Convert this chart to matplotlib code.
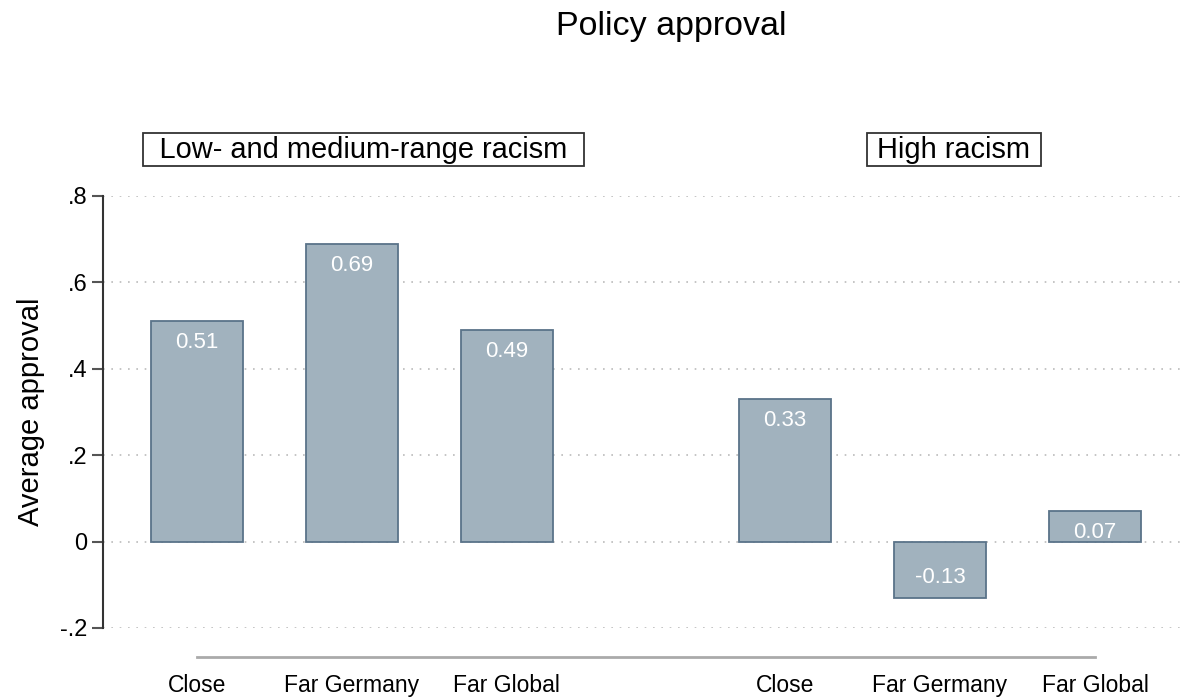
import matplotlib
matplotlib.use("Agg")
import matplotlib.pyplot as plt
import numpy as np

plt.rcParams['font.family'] = ['Liberation Sans', 'DejaVu Sans']

title = "Policy approval"
groups = ["Low- and medium-range racism", "High racism"]
categories = ["Close", "Far Germany", "Far Global"]
low_values = [0.51, 0.69, 0.49]
high_values = [0.33, -0.13, 0.07]
y_ticks = [-0.2, 0, 0.2, 0.4, 0.6, 0.8]
y_tick_labels = ["-.2", "0", ".2", ".4", ".6", ".8"]
ylabel = "Average approval"

fill = "#A1B2BE"
edge = "#5A7389"

W, H = 1186, 698
fig = plt.figure(figsize=(W / 100, H / 100), dpi=100)
ax = fig.add_axes([103 / W, 1 - 628 / H, (1183 - 103) / W, (628 - 196) / H])

group_step = 3 + 0.794
pos_low = np.arange(3)
pos_high = np.arange(3) + group_step
positions = np.concatenate([pos_low, pos_high])
values = low_values + high_values

for s in ["top", "right"]:
    ax.spines[s].set_visible(False)
ax.spines["left"].set_color("#333333")
ax.spines["left"].set_linewidth(1.5)
ax.spines["bottom"].set_position(("outward", 21))
ax.spines["bottom"].set_color("#AAAAAA")
ax.spines["bottom"].set_linewidth(2)

ax.bar(positions, values, width=0.594, color=fill, edgecolor=edge, linewidth=1.3, zorder=3)

for x, v in zip(positions, values):
    off = -15.5 if v >= 0 else 14.5
    ax.annotate(f"{v:.2f}", xy=(x, v), xytext=(0, off), textcoords="offset points",
                ha="center", va="center", color="white", fontsize=16, zorder=4)

ax.set_ylim(-0.2, 0.8)
ax.set_xlim(-0.606, positions[-1] + 0.568)
ax.set_yticks(y_ticks)
ax.set_yticklabels(y_tick_labels, fontsize=17)
ax.set_xticks(positions)
ax.set_xticklabels(categories * 2, fontsize=16.5)
ax.set_ylabel(ylabel, fontsize=21, labelpad=11)
ax.spines["bottom"].set_bounds(positions[0], positions[-1])

ax.grid(axis="y", linestyle=(0, (1, 4)), color="#BBBBBB", linewidth=1.2, zorder=0)
ax.set_axisbelow(True)

ax.tick_params(axis="x", length=0, pad=12)
ax.tick_params(axis="y", length=8, width=1.5, color="#555555", pad=3)

group_centers = [pos_low.mean() + 0.075, pos_high.mean() + 0.09]
box_pads = ["\u2002", " "]
for gx, g, p in zip(group_centers, groups, box_pads):
    ax.text(gx, 0.907, p + g + p, ha="center", va="center", fontsize=20.9,
            bbox=dict(boxstyle="square,pad=0.08", facecolor="white", edgecolor="#333333", linewidth=1.3),
            clip_on=False)

fig.text(671 / W, 1 - 27 / H, title, ha="center", va="center", fontsize=24.5)

fig.savefig("out.png", dpi=100)
